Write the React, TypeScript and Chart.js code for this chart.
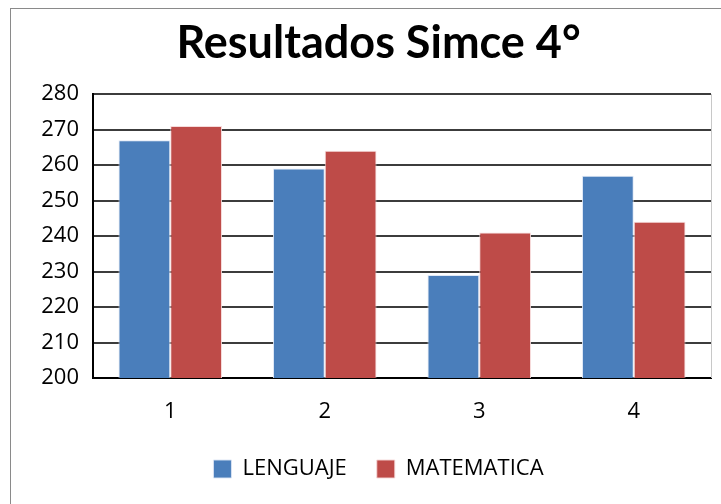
import React, { useEffect, useRef } from "react";
import { Chart, registerables } from "chart.js";

Chart.register(...registerables);

const titleText = "Resultados Simce 4°";
const categories = ["1", "2", "3", "4"];
const seriesNames = ["LENGUAJE", "MATEMATICA"];
const lenguaje = [267, 259, 229, 257];
const matematica = [271, 264, 241, 244];
const yMin = 200;
const yMax = 280;
const yStep = 10;

const FONT = "'Open Sans', 'DejaVu Sans', sans-serif";

const plotRightBorder = {
  id: "plotRightBorder",
  afterDraw(chart: any) {
    const { ctx, chartArea } = chart;
    ctx.save();
    ctx.strokeStyle = "#c8c8c8";
    ctx.lineWidth = 1;
    ctx.beginPath();
    ctx.moveTo(Math.round(chartArea.right) + 0.5, chartArea.top);
    ctx.lineTo(Math.round(chartArea.right) + 0.5, chartArea.bottom);
    ctx.stroke();
    ctx.restore();
  },
};

export default function App() {
  const ref = useRef<HTMLCanvasElement | null>(null);

  useEffect(() => {
    if (!ref.current) return;
    const chart = new Chart(ref.current, {
      type: "bar",
      data: {
        labels: categories,
        datasets: [
          {
            label: seriesNames[0],
            data: lenguaje,
            backgroundColor: "#4a7ebb",
            borderColor: "rgba(220,230,245,0.9)",
            borderWidth: 1,
            categoryPercentage: 0.67,
            barPercentage: 1,
            yAxisID: "y",
          },
          {
            label: seriesNames[1],
            data: matematica,
            backgroundColor: "#be4b48",
            borderColor: "rgba(245,215,215,0.9)",
            borderWidth: 1,
            categoryPercentage: 0.67,
            barPercentage: 1,
            yAxisID: "y",
          },
        ],
      },
      options: {
        responsive: false,
        animation: false,
        devicePixelRatio: 1,
        layout: { padding: { left: 0, right: 0, top: 0, bottom: 19 } },
        plugins: {
          title: {
            display: true,
            text: titleText,
            color: "#000",
            font: { family: "Lato, 'Open Sans', sans-serif", size: 45, weight: "bold", lineHeight: 1.2 },
            padding: { top: 7, bottom: 24 },
          },
          legend: {
            display: true,
            position: "bottom",
            labels: {
              color: "#000",
              font: { family: FONT, size: 22 },
              boxWidth: 18,
              boxHeight: 18,
              padding: 30,
            },
          },
          tooltip: { enabled: false },
        },
        scales: {
          x: {
            grid: { display: false, drawTicks: false },
            border: { display: true, color: "#000", width: 2 },
            ticks: { color: "#000", font: { family: FONT, size: 22 }, padding: 21 },
            afterFit: (scale: any) => {
              scale.height = 50;
            },
          },
          y: {
            min: yMin,
            max: yMax,
            afterFit: (scale: any) => {
              scale.width = 82;
            },
            grid: { color: "#3c3c3c", lineWidth: 2, drawTicks: false },
            border: { display: true, color: "#000", width: 2 },
            ticks: {
              stepSize: yStep,
              color: "#000",
              font: { family: FONT, size: 22 },
              padding: 14,
            },
          },
          yRightSpace: {
            position: "right",
            display: true,
            min: yMin,
            max: yMax,
            afterFit: (scale: any) => {
              scale.width = 35;
            },
            grid: { display: false, drawTicks: false },
            border: { display: false },
            ticks: { display: false },
          },
        },
      },
      plugins: [plotRightBorder],
    });
    return () => chart.destroy();
  }, []);

  return (
    <div
      style={{
        position: "fixed",
        left: 0,
        top: 0,
        width: 721,
        height: 504,
        overflow: "hidden",
        background: "#fff",
      }}
    >
      <div
        style={{
          position: "absolute",
          left: 10,
          top: 8,
          borderLeft: "1px solid #8a8a8a",
          borderTop: "1px solid #8a8a8a",
          width: 735,
          height: 500,
        }}
      >
        <canvas ref={ref} width={735} height={500} style={{ display: "block" }} />
      </div>
    </div>
  );
}
